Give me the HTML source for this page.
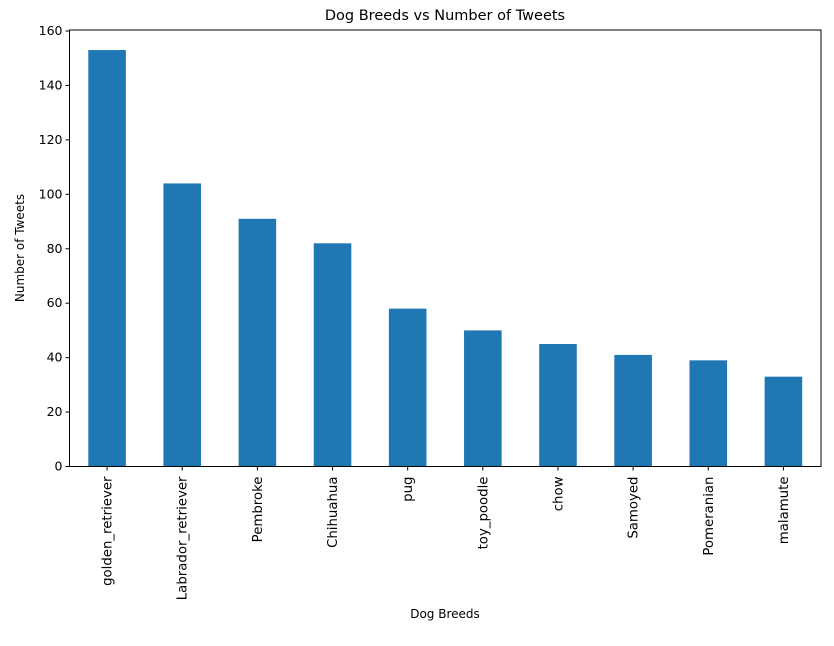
<!DOCTYPE html>
<html><head><meta charset="utf-8"><style>
body{margin:0;background:#fff;}
svg text{font-family:"DejaVu Sans","Liberation Sans",sans-serif;fill:#000;}
</style></head><body>
<svg id="chart" width="834" height="641">
<text x="445" y="20" font-size="14.5" text-anchor="middle">Dog Breeds vs Number of Tweets</text>
<text x="445" y="618" font-size="12" text-anchor="middle">Dog Breeds</text>
<text transform="translate(24,248) rotate(-90)" font-size="12" text-anchor="middle">Number of Tweets</text>
<g id="bars"></g><g id="axes"></g>
</svg>
<script>
const categories=["golden_retriever","Labrador_retriever","Pembroke","Chihuahua","pug","toy_poodle","chow","Samoyed","Pomeranian","malamute"];
const values=[153,104,91,82,58,50,45,41,39,33];
const yTicks=[0,20,40,60,80,100,120,140,160];
const L=69.5,R=821,T=30,B=466.5,yMax=160,y160=31;
const band=(R-L)/categories.length;
function x(i){return L+band*i;}
function y(v){return B-(B-y160)*v/yMax;}
const NS="http://www.w3.org/2000/svg";
function mk(t,a,p){const e=document.createElementNS(NS,t);for(const k in a)e.setAttribute(k,a[k]);p.appendChild(e);return e;}
const bars=document.getElementById('bars'),axes=document.getElementById('axes');
values.forEach((v,i)=>{
 const r=mk('rect',{x:x(i)+band*0.25,y:y(v),width:band*0.5,height:B-y(v),fill:'#1f77b4'},bars);
 
 
 const tk=mk('line',{x1:x(i)+band/2,x2:x(i)+band/2,y1:B,y2:B+4,stroke:'#000'},axes);
 
 
 const cx=x(i)+band/2+4.5,t=mk('text',{transform:`translate(${cx},${B+10}) rotate(-90)`,'font-size':13.3,'text-anchor':'end'},axes);
 t.textContent=categories[i];
 
 
});
yTicks.forEach(v=>{
 const tk=mk('line',{x1:L-4,x2:L,y1:y(v),y2:y(v),stroke:'#000'},axes);
 
 
 const t=mk('text',{x:L-7,y:y(v)+4,'font-size':12.5,'text-anchor':'end'},axes);
 t.textContent=v;
 
 
});
const fr=mk('rect',{x:L,y:T,width:R-L,height:B-T,fill:'none',stroke:'#000','stroke-width':1},axes);


</script>
</body></html>
